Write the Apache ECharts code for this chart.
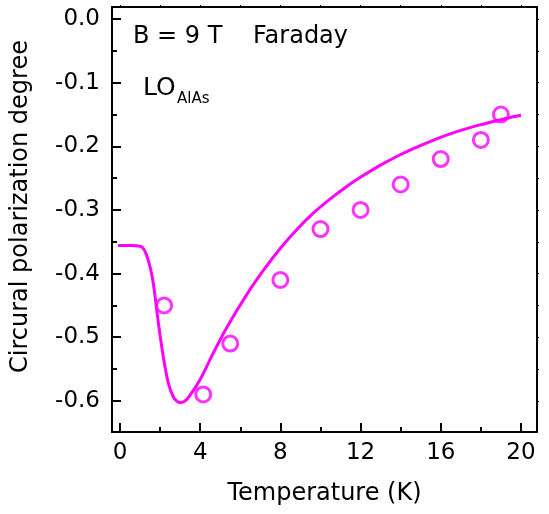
<!DOCTYPE html>
<html>
<head>
<meta charset="utf-8">
<script src="https://cdn.jsdelivr.net/npm/echarts@6/dist/echarts.min.js"></script>
<style>
html,body{margin:0;padding:0;background:#fff;}
#chart{width:549px;height:514px;}
</style>
</head>
<body>
<div id="chart"></div>
<script>
// ---- data ----
var xMajorTicks = [0, 4, 8, 12, 16, 20];
var xMinorTicks = [2, 6, 10, 14, 18];
var xTopTicks = [0, 2, 4, 6, 8, 10, 12, 14, 16, 18, 20];
var yMajorTicks = [-0.6, -0.5, -0.4, -0.3, -0.2, -0.1, 0.0];
var yMinorTicks = [-0.55, -0.45, -0.35, -0.25, -0.15, -0.05];
var yRightTicks = [-0.6, -0.55, -0.5, -0.45, -0.4, -0.35, -0.3, -0.25, -0.2, -0.15, -0.1, -0.05, 0.0];

var measT = [2.2, 4.15, 5.5, 8, 10, 12, 14, 16, 18, 19];
var measP = [-0.45, -0.59, -0.51, -0.41, -0.33, -0.30, -0.26, -0.22, -0.19, -0.15];

var fitT = [-0.1, 0.5, 1.0, 1.2, 1.4, 1.6, 1.75, 1.91, 2.16, 2.41, 2.66, 2.85, 3.0, 3.2, 3.41, 3.99, 4.65, 5.32, 6.32, 7.15, 7.98, 8.81, 9.64, 10.47, 11.31, 12.13, 12.97, 13.8, 14.63, 15.46, 16.29, 17.12, 17.95, 18.78, 19.61, 20.0];
var fitP = [-0.356, -0.356, -0.357, -0.362, -0.378, -0.404, -0.436, -0.477, -0.531, -0.572, -0.594, -0.601, -0.603, -0.601, -0.595, -0.567, -0.525, -0.485, -0.433, -0.395, -0.361, -0.331, -0.305, -0.283, -0.263, -0.246, -0.230, -0.216, -0.2035, -0.1925, -0.1825, -0.1738, -0.1663, -0.1597, -0.1535, -0.151];

var xTitle = 'Temperature (K)';
var yTitle = 'Circural polarization degree';

// ---- chart ----
var FONT = 'DejaVu Sans';
var MAG = '#ff00ff';
var chart = echarts.init(document.getElementById('chart'), null, {renderer: 'canvas'});

function zip(a, b) { return a.map(function (v, i) { return [v, b[i]]; }); }

var lineStyle = {color: '#000', width: 2};
var xRange = {min: -0.4, max: 20.8};
var yRange = {min: -0.649, max: 0.019};

var option = {
  backgroundColor: '#fff',
  animation: false,
  grid: {left: 112, right: 12, top: 7, bottom: 82},
  xAxis: [
    Object.assign({
      type: 'value', position: 'bottom',
      axisLine: {show: true, onZero: false, lineStyle: lineStyle},
      axisTick: {show: true, inside: true, length: 9, lineStyle: {color: '#000', width: 2}, customValues: xMajorTicks},
      axisLabel: {show: true, margin: 10, fontFamily: FONT, fontSize: 23, color: '#000', customValues: xMajorTicks,
        formatter: function (v) { return String(v); }},
      splitLine: {show: false},
      name: xTitle, nameLocation: 'middle', nameGap: 50,
      nameTextStyle: {fontFamily: FONT, fontSize: 24, color: '#000'}
    }, xRange),
    Object.assign({
      type: 'value', position: 'bottom',
      axisLine: {show: false, onZero: false},
      axisTick: {show: true, inside: true, length: 5, lineStyle: {color: '#000', width: 2}, customValues: xMinorTicks},
      axisLabel: {show: false},
      splitLine: {show: false}
    }, xRange),
    Object.assign({
      type: 'value', position: 'top',
      axisLine: {show: true, onZero: false, lineStyle: lineStyle},
      axisTick: {show: true, inside: false, length: 2, lineStyle: {color: '#000', width: 1}, customValues: xTopTicks},
      axisLabel: {show: false},
      splitLine: {show: false}
    }, xRange)
  ],
  yAxis: [
    Object.assign({
      type: 'value', position: 'left',
      axisLine: {show: true, onZero: false, lineStyle: lineStyle},
      axisTick: {show: true, inside: true, length: 9, lineStyle: {color: '#000', width: 2}, customValues: yMajorTicks},
      axisLabel: {show: true, margin: 12, fontFamily: FONT, fontSize: 23, color: '#000', customValues: yMajorTicks,
        formatter: function (v) { return (Math.abs(v) < 1e-9 ? 0 : v).toFixed(1); }},
      splitLine: {show: false}
    }, yRange),
    Object.assign({
      type: 'value', position: 'left',
      axisLine: {show: false, onZero: false},
      axisTick: {show: true, inside: true, length: 5, lineStyle: {color: '#000', width: 2}, customValues: yMinorTicks},
      axisLabel: {show: false},
      splitLine: {show: false}
    }, yRange),
    Object.assign({
      type: 'value', position: 'right',
      axisLine: {show: true, onZero: false, lineStyle: lineStyle},
      axisTick: {show: true, inside: false, length: 2, lineStyle: {color: '#000', width: 1}, customValues: yRightTicks},
      axisLabel: {show: false},
      splitLine: {show: false}
    }, yRange)
  ],
  series: [
    {
      type: 'line', xAxisIndex: 0, yAxisIndex: 0,
      data: zip(fitT, fitP),
      showSymbol: false, symbol: 'none',
      smooth: 0.3,
      lineStyle: {color: MAG, width: 3},
      z: 2
    },
    {
      type: 'scatter', xAxisIndex: 0, yAxisIndex: 0,
      data: zip(measT, measP),
      symbol: 'circle', symbolSize: 15,
      itemStyle: {color: 'rgba(0,0,0,0)', borderColor: MAG, borderWidth: 3},
      z: 3
    }
  ],
  graphic: [
    {type: 'text', x: 133, y: 37, style: {text: 'B = 9 T', fontFamily: FONT, fontSize: 24, fill: '#000', verticalAlign: 'middle', align: 'left'}},
    {type: 'text', x: 253, y: 37, style: {text: 'Faraday', fontFamily: FONT, fontSize: 24, fill: '#000', verticalAlign: 'middle', align: 'left'}},
    {type: 'text', x: 143, y: 88, style: {text: 'LO', fontFamily: FONT, fontSize: 25, fill: '#000', verticalAlign: 'middle', align: 'left'}},
    {type: 'text', x: 177, y: 99.5, style: {text: 'AlAs', fontFamily: FONT, fontSize: 15, fill: '#000', verticalAlign: 'middle', align: 'left'}},
    {type: 'text', x: 21, y: 206.5, rotation: Math.PI / 2, style: {text: yTitle, fontFamily: FONT, fontSize: 24, fill: '#000', verticalAlign: 'middle', align: 'center'}}
  ]
};
chart.setOption(option);
</script>
</body>
</html>
